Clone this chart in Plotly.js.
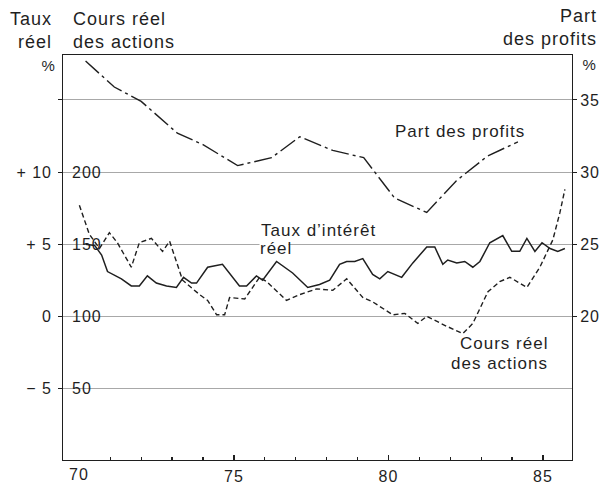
<!DOCTYPE html>
<html>
<head>
<meta charset="utf-8">
<script src="https://cdn.plot.ly/plotly-3.0.1.min.js"></script>
<style>
  html, body { margin: 0; padding: 0; background: #fff; }
  #chart { width: 605px; height: 484px; }
  .main-svg text { letter-spacing: 1px; }
</style>
</head>
<body>
<div id="chart"></div>
<script>
// Part des profits (%), right axis
const profitYears = [70.2, 71.13, 72.0, 73.17, 74.0, 75.12, 76.22, 77.13, 78.2, 79.2, 80.2, 81.24, 82.2, 83.2, 84.19];
const profitShare = [37.7, 35.9, 34.9, 32.7, 31.9, 30.45, 31.0, 32.45, 31.5, 31.0, 28.2, 27.2, 29.4, 31.1, 32.1];

// Cours réel des actions (index), middle axis
const stockYears = [70.0, 70.32, 70.65, 70.97, 71.23, 71.68, 71.94, 72.33, 72.69, 72.92, 73.34, 73.89, 74.15, 74.44, 74.7, 74.86,
  75.35, 75.6, 75.83, 76.06, 76.7, 77.13, 77.68, 78.2, 78.65, 79.17, 79.49, 80.14, 80.53, 80.95, 81.24, 81.89, 82.41, 82.73,
  83.22, 83.6, 83.93, 84.48, 84.9, 85.32, 85.55, 85.71];
const stockPrice = [177, 157, 147, 158, 151, 134, 151, 154, 145, 152, 125, 115, 111, 101, 101, 113,
  112, 120, 127, 124, 111, 115, 119, 118, 126, 113, 110, 101, 102, 95, 100, 93, 88, 95,
  117, 124, 127, 120, 134, 153, 172, 188];

// Taux d'intérêt réel (%), left axis
const rateYears = [70.2, 70.5, 70.72, 70.91, 71.36, 71.68, 71.94, 72.2, 72.49, 72.82, 73.14, 73.37, 73.63, 73.79, 74.15, 74.63,
  75.18, 75.41, 75.73, 75.93, 76.38, 76.9, 77.39, 77.77, 78.1, 78.42, 78.65, 78.91, 79.17, 79.49, 79.72, 79.98, 80.43, 80.79,
  81.24, 81.5, 81.76, 81.92, 82.21, 82.47, 82.73, 82.96, 83.28, 83.6, 83.7, 83.99, 84.25, 84.48, 84.74, 84.97, 85.23, 85.48, 85.71];
const realRate = [5.0, 4.9, 4.25, 3.1, 2.6, 2.1, 2.1, 2.8, 2.3, 2.1, 2.0, 2.7, 2.3, 2.3, 3.4, 3.6,
  2.1, 2.1, 2.8, 2.5, 3.8, 3.0, 2.0, 2.2, 2.5, 3.6, 3.8, 3.8, 4.0, 2.9, 2.6, 3.1, 2.7, 3.7,
  4.8, 4.8, 3.6, 3.9, 3.7, 3.8, 3.4, 3.8, 5.1, 5.5, 5.6, 4.5, 4.5, 5.4, 4.5, 5.1, 4.7, 4.5, 4.7];

// Tick labels
const yearTicks = [70, 75, 80, 85];
const yearMinorTicks = [71, 72, 73, 74, 76, 77, 78, 79, 81, 82, 83, 84];
const rateTicks = [-5, 0, 5, 10];
const rateTickText = ['\u2212 5', '0', '+ 5', '+ 10'];
const stockTicks = [50, 100, 150, 200, 250];
const stockTickText = ['50', '100', '150', '200', ''];
const profitTicks = [20, 25, 30, 35];

const INK = '#1f1f1f';
const FONT = 'Liberation Sans, Arial, Helvetica, sans-serif';
const STOCK_RANGE = [0.3, 281.2];

// plot-area geometry helpers (pixels -> paper fractions)
const L = 63, R = 572, T = 55, B = 460;
const PX = p => (p - L) / (R - L);
const PY = p => (B - p) / (B - T);

const traces = [
  { x: profitYears, y: profitShare, yaxis: 'y2', mode: 'lines', type: 'scatter',
    line: { color: INK, width: 1.4, dash: '18px,4px,3px,4px' }, hoverinfo: 'skip' },
  { x: stockYears, y: stockPrice, yaxis: 'y', mode: 'lines', type: 'scatter',
    line: { color: INK, width: 1.4, dash: '5px,3px' }, hoverinfo: 'skip' },
  { x: rateYears, y: realRate, yaxis: 'y3', mode: 'lines', type: 'scatter',
    line: { color: INK, width: 1.5 }, hoverinfo: 'skip' },
  // transparent copy that carries the inner "Cours" scale labels
  { x: stockYears, y: stockPrice, yaxis: 'y4', mode: 'lines', type: 'scatter',
    opacity: 0, line: { color: INK, width: 0 }, hoverinfo: 'skip' }
];

const ann = (text, px, py, xanchor, align, size, extra) => Object.assign({
  text, xref: 'paper', yref: 'paper', x: PX(px), y: PY(py), xanchor, yanchor: 'middle',
  align, showarrow: false, font: { family: FONT, size, color: INK }
}, extra || {});

const tf = { family: FONT, size: 16, color: INK };

const layout = {
  width: 605, height: 484,
  margin: { l: L, r: 605 - R, t: T, b: 484 - B, pad: 0 },
  paper_bgcolor: '#fff', plot_bgcolor: '#fff',
  showlegend: false,
  font: { family: FONT, size: 16, color: INK },
  xaxis: {
    range: [69.47, 85.94], tickmode: 'array', tickvals: yearTicks, ticktext: yearTicks.map(String),
    ticks: 'inside', ticklen: 5, tickcolor: INK, tickwidth: 1.2, ticklabelstandoff: 2,
    minor: { tickmode: 'array', tickvals: yearMinorTicks, ticks: 'inside', ticklen: 3, tickcolor: INK, tickwidth: 1.2, showgrid: false },
    showline: true, mirror: true, linecolor: INK, linewidth: 1.2,
    showgrid: false, zeroline: false, tickfont: tf,
    automargin: false, fixedrange: true
  },
  yaxis: {
    range: STOCK_RANGE, tickmode: 'array', tickvals: stockTicks, showticklabels: false,
    ticks: 'outside', ticklen: 4, tickcolor: INK,
    showgrid: true, gridcolor: '#a8a8a8', gridwidth: 1,
    showline: true, mirror: true, linecolor: INK, linewidth: 1.2, zeroline: false,
    automargin: false, fixedrange: true
  },
  yaxis2: {
    overlaying: 'y', side: 'right', range: [10.03, 38.12],
    tickmode: 'array', tickvals: profitTicks, ticks: 'outside', ticklen: 4, tickcolor: INK,
    showgrid: false, showline: false, zeroline: false,
    tickfont: tf, automargin: false, fixedrange: true
  },
  yaxis3: {
    overlaying: 'y', side: 'left', range: [-9.97, 18.12],
    tickmode: 'array', tickvals: rateTicks, ticktext: rateTickText, ticks: '',
    ticklabelstandoff: 10,
    showgrid: false, showline: false, zeroline: false,
    tickfont: tf, automargin: false, fixedrange: true
  },
  yaxis4: {
    overlaying: 'y', side: 'left', range: STOCK_RANGE,
    tickmode: 'array', tickvals: stockTicks, ticktext: stockTickText, ticks: '',
    ticklabelposition: 'inside', ticklabelstandoff: 6,
    showgrid: false, showline: false, zeroline: false,
    tickfont: tf, automargin: false, fixedrange: true
  },
  annotations: [
    // first year label (Plotly hides it next to inside y labels)
    { text: String(yearTicks[0]), xref: 'x', yref: 'paper', x: yearTicks[0], y: PY(474),
      xanchor: 'center', yanchor: 'middle', showarrow: false, font: tf },
    ann('Taux<br>réel', 54, 31, 'right', 'right', 18),
    ann('Cours réel<br>des actions', 71, 31, 'left', 'left', 18),
    ann('Part<br>des profits', 599, 27, 'right', 'right', 18),
    ann('%', 48, 66, 'center', 'center', 15),
    ann('%', 589, 64, 'center', 'center', 15),
    ann('Part des profits', 460, 131, 'center', 'center', 17),
    ann('Taux d\u2019intérêt', 259, 230, 'left', 'left', 17),
    ann('réel', 259, 249, 'left', 'left', 17, { bgcolor: '#fff', borderpad: 0 }),
    ann('Cours réel', 550, 343, 'right', 'right', 17),
    ann('des actions', 550, 363, 'right', 'right', 17)
  ]
};

Plotly.newPlot('chart', traces, layout, { staticPlot: true, displayModeBar: false });
</script>
</body>
</html>
